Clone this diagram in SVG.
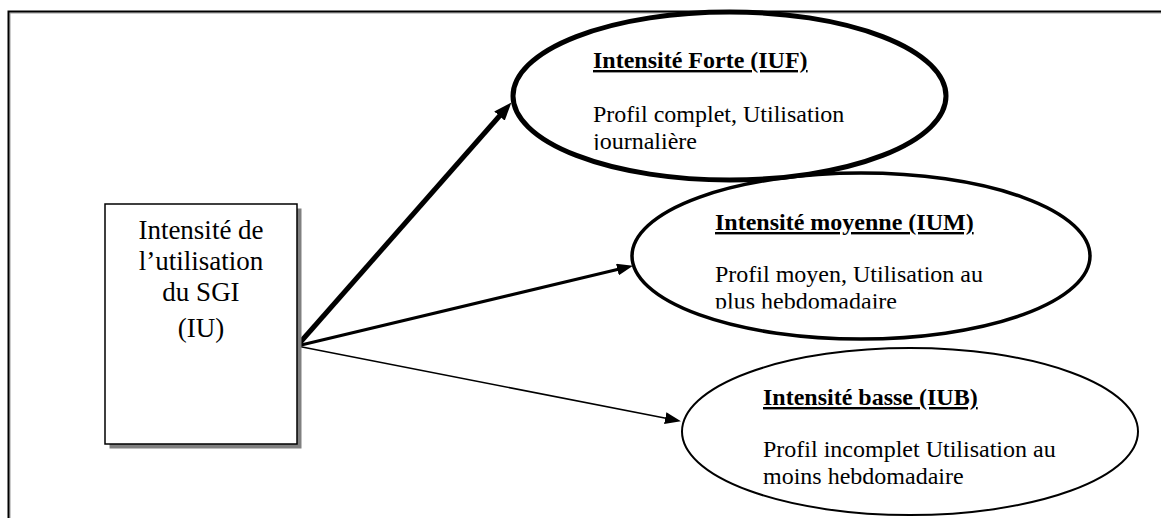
<svg xmlns="http://www.w3.org/2000/svg" width="1161" height="518" viewBox="0 0 1161 518">
  <style>
    .frame { fill: none; stroke: #000; stroke-width: 2; }
    .frame-hl { fill: none; stroke: #9a9a9a; stroke-width: 1; }
    .box { fill: #fff; stroke: #000; stroke-width: 1.5; }
    .shadow { fill: #808080; }
    .oval { fill: #fff; stroke: #000; }
    .t { font-family: "Liberation Serif", "Times New Roman", serif; fill: #000; }
    .box-t { font-size: 27px; text-anchor: middle; }
    .oval-t { font-size: 24px; }
    .title { font-weight: bold; text-decoration: underline; }
    .link { stroke: #000; fill: none; }
  </style>
  <defs>
    <marker id="headL" viewBox="0 0 18 14" markerWidth="18" markerHeight="14" refX="2" refY="7" orient="auto" markerUnits="userSpaceOnUse">
      <path d="M0,0 L18,7 L0,14 z" fill="#000"/>
    </marker>
    <marker id="head" viewBox="0 0 16 12" markerWidth="16" markerHeight="12" refX="2" refY="6" orient="auto" markerUnits="userSpaceOnUse">
      <path d="M0,0 L16,6 L0,12 z" fill="#000"/>
    </marker>
    <clipPath id="clipF"><rect x="500" y="0" width="460" height="150"/></clipPath>
    <clipPath id="clipM"><rect x="620" y="160" width="480" height="148.5"/></clipPath>
  </defs>

  <!-- outer frame -->
  <rect class="frame-hl" x="10" y="13" width="1170" height="520"/>
  <rect class="frame" x="8.5" y="11.5" width="1170" height="520"/>

  <!-- connectors -->
  <g id="connectors">
    <line class="link" x1="297" y1="346" x2="500.8" y2="114.5" stroke-width="5" marker-end="url(#headL)"/>
    <line class="link" x1="297" y1="346" x2="619.4" y2="269" stroke-width="3.2" marker-end="url(#head)"/>
    <line class="link" x1="297" y1="346" x2="667.2" y2="418.5" stroke-width="1.6" marker-end="url(#head)"/>
  </g>

  <!-- source box -->
  <g id="node-iu">
    <rect class="shadow" x="109.5" y="208.5" width="192" height="240"/>
    <rect class="box" x="105" y="204" width="192" height="240"/>
    <text class="t box-t" x="201" y="239">Intensité de</text>
    <text class="t box-t" x="201" y="270">l’utilisation</text>
    <text class="t box-t" x="201" y="301">du SGI</text>
    <text class="t box-t" x="201" y="337">(IU)</text>
  </g>

  <!-- medium intensity -->
  <g id="node-ium">
    <ellipse class="oval" cx="861" cy="256" rx="229" ry="83" stroke-width="3.5"/>
    <text class="t oval-t title" x="715" y="230">Intensité moyenne (IUM)</text>
    <g clip-path="url(#clipM)">
      <text class="t oval-t" x="715" y="282">Profil moyen, Utilisation au</text>
      <text class="t oval-t" x="715" y="308.5">plus hebdomadaire</text>
    </g>
  </g>

  <!-- strong intensity -->
  <g id="node-iuf">
    <ellipse class="oval" cx="729.5" cy="96" rx="216.5" ry="84" stroke-width="5"/>
    <text class="t oval-t title" x="593" y="68">Intensité Forte (IUF)</text>
    <g clip-path="url(#clipF)">
      <text class="t oval-t" x="593" y="122">Profil complet, Utilisation</text>
      <text class="t oval-t" x="593" y="148.5">journalière</text>
    </g>
  </g>

  <!-- low intensity -->
  <g id="node-iub">
    <ellipse class="oval" cx="910" cy="431.5" rx="228" ry="83.5" stroke-width="2"/>
    <text class="t oval-t title" x="763" y="405">Intensité basse (IUB)</text>
    <text class="t oval-t" x="763" y="457">Profil incomplet Utilisation au</text>
    <text class="t oval-t" x="763" y="484">moins hebdomadaire</text>
  </g>
</svg>
